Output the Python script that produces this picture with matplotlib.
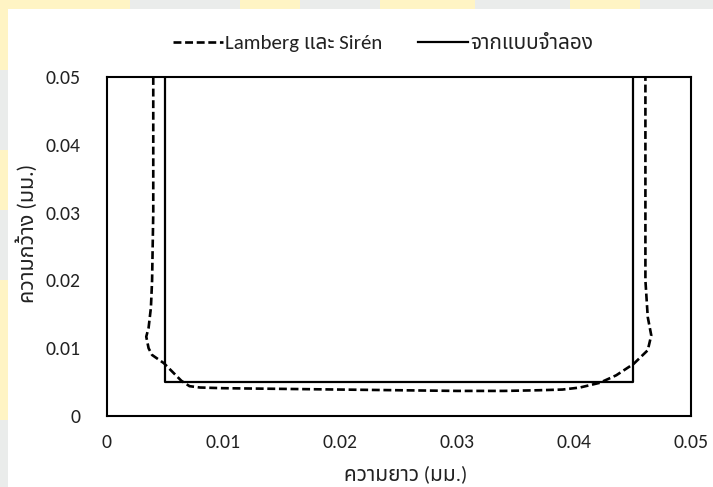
import matplotlib
matplotlib.use("Agg")
import matplotlib.pyplot as plt
from matplotlib.patches import Rectangle

# ผลจากแบบจำลอง (รูปตัว U)
model_x = [0.005, 0.005, 0.045, 0.045]
model_y = [0.050, 0.005, 0.005, 0.050]

# ผลของ Lamberg และ Sirén
lamberg_x = [0.0040, 0.0040, 0.0039, 0.0038, 0.0036, 0.0034, 0.0036, 0.0039,
             0.0049, 0.0064, 0.0071, 0.0080, 0.0100, 0.0150, 0.0200, 0.0250,
             0.0300, 0.0340, 0.0370, 0.0390, 0.0405, 0.0422, 0.0436, 0.0451,
             0.0463, 0.0466, 0.0463, 0.0461, 0.0461]
lamberg_y = [0.0500, 0.0300, 0.0200, 0.0160, 0.0130, 0.0117, 0.0100, 0.0090,
             0.0078, 0.0052, 0.0044, 0.0042, 0.0041, 0.0040, 0.0039, 0.0038,
             0.0037, 0.0037, 0.0038, 0.0039, 0.0042, 0.0049, 0.0060, 0.0077,
             0.0097, 0.0119, 0.0146, 0.0200, 0.0500]

ticks = [0, 0.01, 0.02, 0.03, 0.04, 0.05]
tick_labels = ["0", "0.01", "0.02", "0.03", "0.04", "0.05"]

plt.rcParams['font.family'] = ['Carlito', 'Noto Sans Thai', 'DejaVu Sans']
plt.rcParams['font.size'] = 14.2

fig = plt.figure(figsize=(7.13, 4.87), dpi=100, facecolor='#eaeceb')

# พื้นหลังขาวของกราฟ และแถบลายน้ำสีเหลืองที่ขอบ
bg = [Rectangle((8 / 713, 0), 1, 1 - 9 / 487, facecolor='white')]
for x0, w in [(0, 130), (240, 60), (380, 95), (570, 70)]:
    bg.append(Rectangle((x0 / 713, 1 - 9 / 487), w / 713, 9 / 487, facecolor='#fff4c4'))
for y0, h in [(0, 70), (150, 60), (280, 140)]:
    bg.append(Rectangle((0, 1 - (y0 + h) / 487), 8 / 713, h / 487, facecolor='#fff4c4'))
for p in bg:
    p.set_transform(fig.transFigure)
    p.set_edgecolor('none')
    p.set_zorder(-5)
    fig.patches.append(p)

ax = fig.add_axes([106.5 / 713, 71 / 487, 584.5 / 713, 339 / 487], zorder=2)
ax.set_facecolor('white')

ax.plot(lamberg_x, lamberg_y, color='black', lw=1.9, linestyle=(0, (3.0, 1.4)),
        label='Lamberg และ Sirén', dash_capstyle='butt')
ax.plot(model_x, model_y, color='black', lw=1.6, label='จากแบบจำลอง')

ax.set_xlim(0, 0.05)
ax.set_ylim(0, 0.05)
ax.set_xticks(ticks)
ax.set_xticklabels(tick_labels)
ax.set_yticks(ticks)
ax.set_yticklabels(tick_labels)
ax.tick_params(length=0, colors='#222222')
ax.tick_params(axis='x', pad=13)
ax.tick_params(axis='y', pad=19)
for s in ax.spines.values():
    s.set_linewidth(1.5)
    s.set_color('black')

ax.set_xlabel('ความยาว (มม.)', color='#222222', fontsize=15)
ax.set_ylabel('ความกว้าง (มม.)', color='#222222', fontsize=15.5)
ax.xaxis.set_label_coords(0.511, -58 / 339, transform=ax.transAxes)
ax.yaxis.set_label_coords(-80 / 584.5, 0.54, transform=ax.transAxes)
ax.xaxis.label.set_va('center')
ax.yaxis.label.set_va('center')

ax.legend(loc='center', bbox_to_anchor=(383 / 713, 1 - 43 / 487),
          bbox_transform=fig.transFigure, ncol=2, frameon=False,
          fontsize=15, handlelength=2.4, handletextpad=0.1, columnspacing=1.7,
          labelcolor='#222222')

fig.savefig("out.png", dpi=100, facecolor=fig.get_facecolor())
